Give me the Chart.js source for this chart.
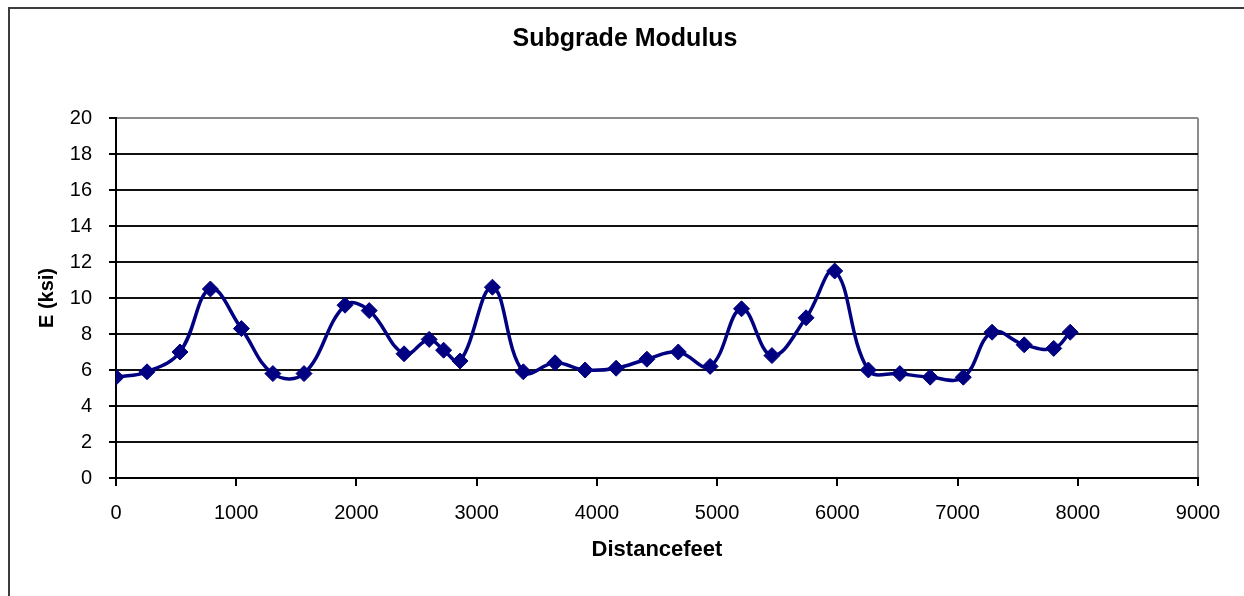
<!DOCTYPE html>
<html>
<head>
<meta charset="utf-8">
<title>Subgrade Modulus</title>
<script src="https://cdn.jsdelivr.net/npm/chart.js@4/dist/chart.umd.min.js"></script>
<style>
  html, body { margin: 0; padding: 0; background: #fff; }
  #myChart { display: block; }
</style>
</head>
<body>
<canvas id="myChart" width="1244" height="596"></canvas>
<script>
// station along the road (feet) and backcalculated subgrade modulus (ksi)
const distanceFeet = [0, 258, 532, 785, 1043, 1305, 1564, 1905, 2106, 2396, 2605, 2725, 2862,
    3131, 3388, 3652, 3902, 4160, 4416, 4677, 4942, 5203, 5456, 5740, 5978, 6258, 6520,
    6772, 7048, 7287, 7554, 7800, 7937];
const modulusKsi = [5.6, 5.9, 7.0, 10.5, 8.3, 5.8, 5.8, 9.6, 9.3, 6.9, 7.7, 7.1, 6.5,
    10.6, 5.9, 6.4, 6.0, 6.1, 6.6, 7.0, 6.2, 9.4, 6.8, 8.9, 11.5, 6.0, 5.8,
    5.6, 5.6, 8.1, 7.4, 7.2, 8.1];

// axis ranges
const xTicks = { min: 0, max: 9000, step: 1000 };
const yTicks = { min: 0, max: 20, step: 2 };

const fontFamily = '"Liberation Sans", Arial, sans-serif';

// frame round the whole chart (only top and left edges fall inside the canvas)
const chartFrame = {
    id: 'chartFrame',
    beforeDraw(chart) {
        const c = chart.ctx;
        c.save();
        c.strokeStyle = '#3c3c3c';
        c.lineWidth = 2;
        c.beginPath();
        c.moveTo(9, chart.height + 5);
        c.lineTo(9, 8);
        c.lineTo(chart.width + 5, 8);
        c.stroke();
        c.restore();
    }
};

const points = distanceFeet.map((d, i) => ({ x: d, y: modulusKsi[i] }));

var ctx = document.getElementById('myChart').getContext('2d');

var chart = new Chart(ctx, {
    type: 'line',
    data: {
        datasets: [{
            label: 'E (ksi)',
            data: points,
            borderColor: '#000080',
            backgroundColor: '#000080',
            borderWidth: 3.5,
            tension: 0.4,
            pointStyle: 'rectRot',
            pointRadius: 8,
            pointBorderWidth: 1,
            pointBorderColor: '#000080',
            pointBackgroundColor: '#000080'
        }]
    },
    options: {
        responsive: false,
        animation: false,
        layout: { padding: { left: 6, right: 0, top: 0, bottom: 0 } },
        plugins: {
            legend: { display: false },
            tooltip: { enabled: false },
            title: {
                display: true,
                text: 'Subgrade Modulus',
                color: '#000',
                font: { family: fontFamily, size: 25, weight: 'bold' },
                padding: { top: 24, bottom: 64 }
            }
        },
        scales: {
            x: {
                type: 'linear',
                min: xTicks.min,
                max: xTicks.max,
                afterFit: (scale) => { scale.height = 118; },
                ticks: {
                    stepSize: xTicks.step,
                    color: '#000',
                    padding: 15,
                    maxRotation: 0,
                    callback: (v) => String(v),
                    font: { family: fontFamily, size: 20 }
                },
                grid: {
                    drawOnChartArea: true,
                    tickLength: 8,
                    lineWidth: 2,
                    tickColor: '#000',
                    // only the right edge of the plot gets a line
                    color: (c) => (c.tick && c.tick.value === xTicks.max) ? '#8c8c8c' : 'rgba(0,0,0,0)'
                },
                border: { color: '#000', width: 2 },
                title: {
                    display: true,
                    text: 'Distancefeet',
                    color: '#000',
                    font: { family: fontFamily, size: 22, weight: 'bold' },
                    padding: { top: 0, bottom: 33 }
                }
            },
            y: {
                min: yTicks.min,
                max: yTicks.max,
                afterFit: (scale) => { scale.width = 110; },
                ticks: {
                    stepSize: yTicks.step,
                    color: '#000',
                    padding: 17,
                    font: { family: fontFamily, size: 20 }
                },
                grid: {
                    tickLength: 7,
                    lineWidth: 2,
                    tickColor: '#000',
                    color: (c) => (c.tick && c.tick.value === yTicks.max) ? '#8c8c8c' : '#111'
                },
                border: { color: '#000', width: 2 },
                title: {
                    display: true,
                    text: 'E (ksi)',
                    color: '#000',
                    font: { family: fontFamily, size: 20, weight: 'bold' },
                    padding: { top: 29, bottom: 0 }
                }
            },
            // empty strip on the right so the plot ends short of the edge
            yRight: {
                position: 'right',
                min: yTicks.min,
                max: yTicks.max,
                afterFit: (scale) => { scale.width = 46; },
                ticks: { display: false },
                grid: { display: false },
                border: { display: false }
            }
        }
    },
    plugins: [chartFrame]
});
</script>
</body>
</html>
